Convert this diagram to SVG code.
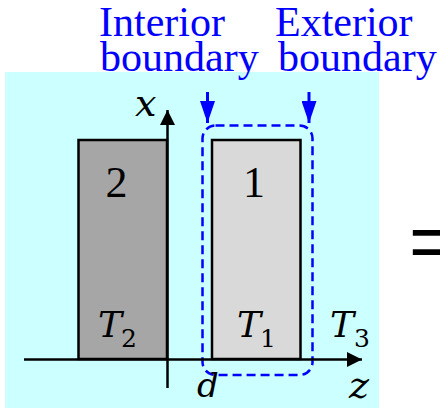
<svg xmlns="http://www.w3.org/2000/svg" width="440" height="408" viewBox="0 0 440 408">
<style>
.lbl{font-family:"Liberation Serif",serif;font-size:42px;fill:#0000ff}
.num{font-family:"Liberation Serif",serif;font-size:44px;fill:#000;text-anchor:middle}
.m{font-family:"DejaVu Serif",serif;font-style:italic;fill:#000}
.sub{font-family:"DejaVu Serif",serif;font-size:25px;fill:#000}
.blk{stroke:#000;stroke-width:2.5;fill:none}
</style>
<defs>
<marker id="ah" markerWidth="15" markerHeight="15" viewBox="0 0 15 15" refX="15" refY="7.5" orient="auto" markerUnits="userSpaceOnUse">
<path d="M0,0 L15,7.5 L0,15 Z" fill="#000"/>
</marker>
<marker id="bh" markerWidth="22" markerHeight="15" viewBox="0 0 22 15" refX="22" refY="7.5" orient="auto" markerUnits="userSpaceOnUse">
<path d="M0,0 L22,7.5 L0,15 Z" fill="#0000ff"/>
</marker>
</defs>
<rect x="5" y="72" width="374" height="336" fill="#ccffff"/>
<g id="interior-label">
<text class="lbl"><tspan x="99" y="36">Interior</tspan><tspan x="100" y="71">boundary</tspan></text>
</g>
<g id="exterior-label">
<text class="lbl"><tspan x="275" y="36">Exterior</tspan><tspan x="278" y="71">boundary</tspan></text>
</g>
<g id="body2">
<rect x="78.5" y="140" width="88.5" height="219" fill="#a6a6a6" stroke="#000" stroke-width="2.5"/>
<text class="num" x="116.5" y="197">2</text>
<text class="m" x="98" y="337" font-size="36">T</text>
<text class="sub" x="121" y="347">2</text>
</g>
<g id="body1">
<rect x="212" y="140" width="88.5" height="219" fill="#d9d9d9" stroke="#000" stroke-width="2.5"/>
<text class="num" x="254" y="197">1</text>
<text class="m" x="237" y="337" font-size="36">T</text>
<text class="sub" x="260" y="347">1</text>
</g>
<g id="boundary">
<rect x="202.5" y="125.5" width="110" height="249.5" rx="13" ry="13" fill="none" stroke="#0000ff" stroke-width="2.5" stroke-dasharray="9,5"/>
</g>
<g id="connectors">
<line class="blk" x1="167.5" y1="388" x2="167.5" y2="110" marker-end="url(#ah)"/>
<line class="blk" x1="24" y1="359.5" x2="362" y2="359.5" marker-end="url(#ah)"/>
<line x1="207.5" y1="92" x2="207.5" y2="123" stroke="#0000ff" stroke-width="3" marker-end="url(#bh)"/>
<line x1="309" y1="92" x2="309" y2="123" stroke="#0000ff" stroke-width="3" marker-end="url(#bh)"/>
</g>
<g id="axislabels">
<text class="m" x="135" y="116" font-size="38">x</text>
<text class="m" x="349" y="398" font-size="38">z</text>
<text class="m" x="197" y="397" font-size="34">d</text>
<text class="m" x="330" y="337" font-size="36">T</text>
<text class="sub" x="354" y="347">3</text>
</g>
<text x="409" y="268" font-family="Liberation Sans,Arial,sans-serif" font-size="78" fill="#000">=</text>
</svg>
